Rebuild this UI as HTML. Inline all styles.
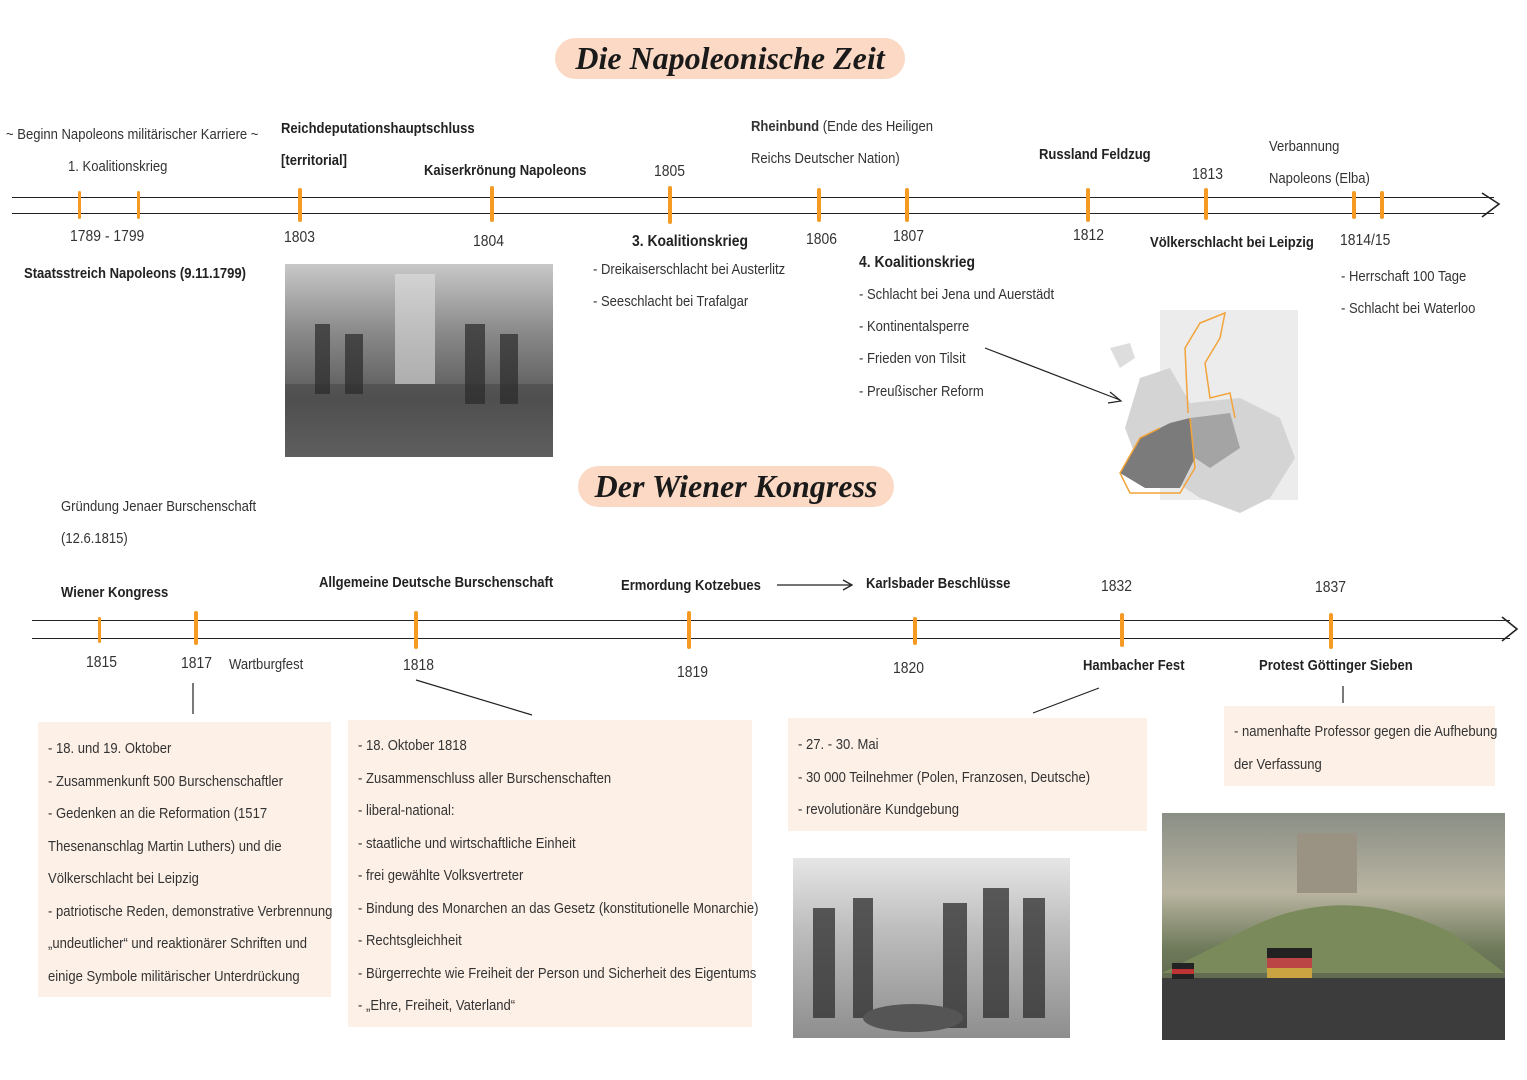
<!DOCTYPE html>
<html><head><meta charset="utf-8">
<style>
body{margin:0;width:1527px;height:1080px;background:#fff;position:relative;overflow:hidden;font-family:"Liberation Sans",sans-serif;color:#333;}
.t{position:absolute;font-size:15px;white-space:nowrap;transform:scaleX(0.87);transform-origin:0 0}
.b{font-weight:bold;color:#222}
.pill{position:absolute;background:#fbd9c4;border-radius:22px;font-family:"Liberation Serif",serif;font-weight:bold;font-style:italic;font-size:32px;color:#1a1a1a;text-align:center}
.line{position:absolute;height:0;border-top:1.6px solid #222}
.tick{position:absolute;width:4px;background:#f59a23;border-radius:2px}
.box{position:absolute;background:#fdf0e7}
.box div{font-size:15px;line-height:32.5px;color:#333;white-space:nowrap;transform:scaleX(0.87);transform-origin:0 0}
.img{position:absolute;overflow:hidden}
</style></head><body>

<div class="pill" style="left:555px;top:38px;width:350px;height:41px;line-height:41px">Die Napoleonische Zeit</div>

<div class="line" style="left:12px;top:197px;width:1482px"></div>
<div class="line" style="left:12px;top:213px;width:1482px"></div>
<svg style="position:absolute;left:1480px;top:191px" width="24" height="28"><polyline points="2,2 19,13 2,26" fill="none" stroke="#222" stroke-width="1.6"/></svg>
<div class="tick" style="left:78px;top:191px;height:28px;width:3px"></div>
<div class="tick" style="left:137px;top:191px;height:28px;width:3px"></div>
<div class="tick" style="left:298px;top:188px;height:34px"></div>
<div class="tick" style="left:490px;top:186px;height:36px"></div>
<div class="tick" style="left:668px;top:186px;height:38px"></div>
<div class="tick" style="left:817px;top:188px;height:34px"></div>
<div class="tick" style="left:905px;top:188px;height:34px"></div>
<div class="tick" style="left:1086px;top:188px;height:34px"></div>
<div class="tick" style="left:1204px;top:188px;height:32px"></div>
<div class="tick" style="left:1352px;top:191px;height:28px"></div>
<div class="tick" style="left:1380px;top:191px;height:28px"></div>

<div class="t" style="left:6px;top:126px">~ Beginn Napoleons militärischer Karriere ~</div>
<div class="t" style="left:68px;top:158px">1. Koalitionskrieg</div>
<div class="t" style="left:70px;top:228px;font-size:16px">1789 - 1799</div>
<div class="t b" style="left:24px;top:265px">Staatsstreich Napoleons (9.11.1799)</div>
<div class="t b" style="left:281px;top:120px">Reichdeputationshauptschluss</div>
<div class="t b" style="left:281px;top:152px">[territorial]</div>
<div class="t" style="left:284px;top:229px;font-size:16px">1803</div>
<div class="t b" style="left:424px;top:162px">Kaiserkrönung Napoleons</div>
<div class="t" style="left:473px;top:233px;font-size:16px">1804</div>
<div class="t" style="left:654px;top:163px;font-size:16px">1805</div>
<div class="t b" style="left:632px;top:233px;font-size:16px">3. Koalitionskrieg</div>
<div class="t" style="left:593px;top:261px">- Dreikaiserschlacht bei Austerlitz</div>
<div class="t" style="left:593px;top:293px">- Seeschlacht bei Trafalgar</div>
<div class="t" style="left:751px;top:118px"><b>Rheinbund</b> (Ende des Heiligen</div>
<div class="t" style="left:751px;top:150px">Reichs Deutscher Nation)</div>
<div class="t" style="left:806px;top:231px;font-size:16px">1806</div>
<div class="t" style="left:893px;top:228px;font-size:16px">1807</div>
<div class="t b" style="left:859px;top:254px;font-size:16px">4. Koalitionskrieg</div>
<div class="t" style="left:859px;top:286px">- Schlacht bei Jena und Auerstädt</div>
<div class="t" style="left:859px;top:318px">- Kontinentalsperre</div>
<div class="t" style="left:859px;top:350px">- Frieden von Tilsit</div>
<div class="t" style="left:859px;top:383px">- Preußischer Reform</div>
<svg style="position:absolute;left:980px;top:340px" width="150" height="70"><line x1="5" y1="8" x2="140" y2="60" stroke="#222" stroke-width="1.2"/><polyline points="130,52 141,61 128,63" fill="none" stroke="#222" stroke-width="1.2"/></svg>
<div class="t b" style="left:1039px;top:146px">Russland Feldzug</div>
<div class="t" style="left:1073px;top:227px;font-size:16px">1812</div>
<div class="t" style="left:1192px;top:166px;font-size:16px">1813</div>
<div class="t b" style="left:1150px;top:234px">Völkerschlacht bei Leipzig</div>
<div class="t" style="left:1269px;top:138px">Verbannung</div>
<div class="t" style="left:1269px;top:170px">Napoleons (Elba)</div>
<div class="t" style="left:1340px;top:232px;font-size:16px">1814/15</div>
<div class="t" style="left:1341px;top:268px">- Herrschaft 100 Tage</div>
<div class="t" style="left:1341px;top:300px">- Schlacht bei Waterloo</div>

<div class="img" style="left:285px;top:264px;width:268px;height:193px;background:linear-gradient(180deg,#c8c8c8 0%,#8a8a8a 35%,#5a5a5a 70%,#7a7a7a 100%)">
<svg width="268" height="193"><rect x="110" y="10" width="40" height="110" fill="#e0e0e0" opacity=".6"/><rect x="0" y="120" width="268" height="73" fill="#444" opacity=".5"/><g fill="#2a2a2a" opacity=".7"><rect x="30" y="60" width="15" height="70"/><rect x="60" y="70" width="18" height="60"/><rect x="180" y="60" width="20" height="80"/><rect x="215" y="70" width="18" height="70"/></g></svg></div>

<svg style="position:absolute;left:1100px;top:308px" width="200" height="210">
<rect x="60" y="2" width="138" height="190" fill="#ececec"/>
<path d="M10,40 L30,35 L35,50 L20,60Z" fill="#ddd"/>
<path d="M40,70 L70,60 L90,95 L140,90 L180,110 L195,150 L170,190 L140,205 L100,190 L70,170 L40,160 L25,120Z" fill="#d4d4d4"/>
<path d="M40,130 L70,115 L90,110 L95,150 L80,180 L45,180 L20,165Z" fill="#7b7b7b"/>
<path d="M90,110 L130,105 L140,140 L110,160 L95,150Z" fill="#a4a4a4"/>
<path d="M88,105 L85,40 L100,15 L125,5 L120,30 L105,55 L110,90 L130,85 L135,110 M90,110 L95,160 L80,185 L30,185 L20,165 L40,130 L60,120" fill="none" stroke="#f2a33a" stroke-width="1.5"/>
</svg>

<div class="pill" style="left:578px;top:466px;width:316px;height:41px;line-height:41px">Der Wiener Kongress</div>

<div class="line" style="left:32px;top:620px;width:1478px"></div>
<div class="line" style="left:32px;top:638px;width:1478px"></div>
<svg style="position:absolute;left:1500px;top:615px" width="24" height="28"><polyline points="2,2 17,14 2,26" fill="none" stroke="#222" stroke-width="1.6"/></svg>
<div class="tick" style="left:98px;top:617px;height:26px;width:3px"></div>
<div class="tick" style="left:194px;top:611px;height:34px"></div>
<div class="tick" style="left:414px;top:611px;height:38px"></div>
<div class="tick" style="left:687px;top:611px;height:38px"></div>
<div class="tick" style="left:913px;top:617px;height:28px"></div>
<div class="tick" style="left:1120px;top:613px;height:34px"></div>
<div class="tick" style="left:1329px;top:613px;height:36px"></div>

<div class="t" style="left:61px;top:498px">Gründung Jenaer Burschenschaft</div>
<div class="t" style="left:61px;top:530px">(12.6.1815)</div>
<div class="t b" style="left:61px;top:584px">Wiener Kongress</div>
<div class="t" style="left:86px;top:654px;font-size:16px">1815</div>
<div class="t" style="left:181px;top:655px;font-size:16px">1817</div>
<div class="t" style="left:229px;top:656px">Wartburgfest</div>
<div class="t b" style="left:319px;top:574px">Allgemeine Deutsche Burschenschaft</div>
<div class="t" style="left:403px;top:657px;font-size:16px">1818</div>
<div class="t b" style="left:621px;top:577px">Ermordung Kotzebues</div>
<svg style="position:absolute;left:777px;top:578px" width="80" height="14"><line x1="0" y1="7" x2="74" y2="7" stroke="#222" stroke-width="1.3"/><polyline points="66,2 75,7 66,12" fill="none" stroke="#222" stroke-width="1.3"/></svg>
<div class="t b" style="left:866px;top:575px">Karlsbader Beschlüsse</div>
<div class="t" style="left:677px;top:664px;font-size:16px">1819</div>
<div class="t" style="left:893px;top:660px;font-size:16px">1820</div>
<div class="t" style="left:1101px;top:578px;font-size:16px">1832</div>
<div class="t b" style="left:1083px;top:657px">Hambacher Fest</div>
<div class="t" style="left:1315px;top:579px;font-size:16px">1837</div>
<div class="t b" style="left:1259px;top:657px">Protest Göttinger Sieben</div>

<svg style="position:absolute;left:0;top:0" width="1527" height="1080">
<line x1="193" y1="683" x2="193" y2="714" stroke="#222" stroke-width="1.2"/>
<line x1="416" y1="680" x2="532" y2="715" stroke="#222" stroke-width="1.2"/>
<line x1="1099" y1="688" x2="1033" y2="713" stroke="#222" stroke-width="1.2"/>
<line x1="1343" y1="686" x2="1343" y2="703" stroke="#222" stroke-width="1.2"/>
</svg>

<div class="box" style="left:38px;top:722px;width:293px;height:275px;padding:11px 0 0 10px;box-sizing:border-box">
<div>- 18. und 19. Oktober</div><div>- Zusammenkunft 500 Burschenschaftler</div><div>- Gedenken an die Reformation (1517</div><div>Thesenanschlag Martin Luthers) und die</div><div>Völkerschlacht bei Leipzig</div><div>- patriotische Reden, demonstrative Verbrennung</div><div>„undeutlicher“ und reaktionärer Schriften und</div><div>einige Symbole militärischer Unterdrückung</div></div>

<div class="box" style="left:348px;top:720px;width:404px;height:307px;padding:10px 0 0 10px;box-sizing:border-box">
<div>- 18. Oktober 1818</div><div>- Zusammenschluss aller Burschenschaften</div><div>- liberal-national:</div><div>- staatliche und wirtschaftliche Einheit</div><div>- frei gewählte Volksvertreter</div><div>- Bindung des Monarchen an das Gesetz (konstitutionelle Monarchie)</div><div>- Rechtsgleichheit</div><div>- Bürgerrechte wie Freiheit der Person und Sicherheit des Eigentums</div><div>- „Ehre, Freiheit, Vaterland“</div></div>

<div class="box" style="left:788px;top:718px;width:359px;height:113px;padding:11px 0 0 10px;box-sizing:border-box">
<div>- 27. - 30. Mai</div><div>- 30 000 Teilnehmer (Polen, Franzosen, Deutsche)</div><div>- revolutionäre Kundgebung</div></div>

<div class="box" style="left:1224px;top:706px;width:271px;height:80px;padding:10px 0 0 10px;box-sizing:border-box">
<div>- namenhafte Professor gegen die Aufhebung</div><div>der Verfassung</div></div>

<div class="img" style="left:793px;top:858px;width:277px;height:180px;background:linear-gradient(180deg,#e6e6e6 0%,#bdbdbd 40%,#8e8e8e 100%)">
<svg width="277" height="180"><g fill="#2e2e2e" opacity=".75"><rect x="20" y="50" width="22" height="110"/><rect x="60" y="40" width="20" height="120"/><rect x="150" y="45" width="24" height="125"/><rect x="190" y="30" width="26" height="130"/><rect x="230" y="40" width="22" height="120"/></g><ellipse cx="120" cy="160" rx="50" ry="14" fill="#555"/></svg></div>

<div class="img" style="left:1162px;top:813px;width:343px;height:227px;background:linear-gradient(180deg,#8a8f86 0%,#b9b4a1 35%,#6e7a5a 60%,#4a4a42 100%)">
<svg width="343" height="227"><path d="M60,130 Q170,60 290,120 L343,160 L0,160Z" fill="#7a8a5a"/><rect x="135" y="20" width="60" height="60" fill="#9a9282"/><rect x="0" y="165" width="343" height="62" fill="#3c3c3c"/><g><rect x="10" y="150" width="22" height="16" fill="#222"/><rect x="10" y="156" width="22" height="5" fill="#b33"/><rect x="105" y="135" width="45" height="30" fill="#222"/><rect x="105" y="145" width="45" height="10" fill="#b44"/><rect x="105" y="155" width="45" height="10" fill="#c9a440"/></g></svg></div>

</body></html>
